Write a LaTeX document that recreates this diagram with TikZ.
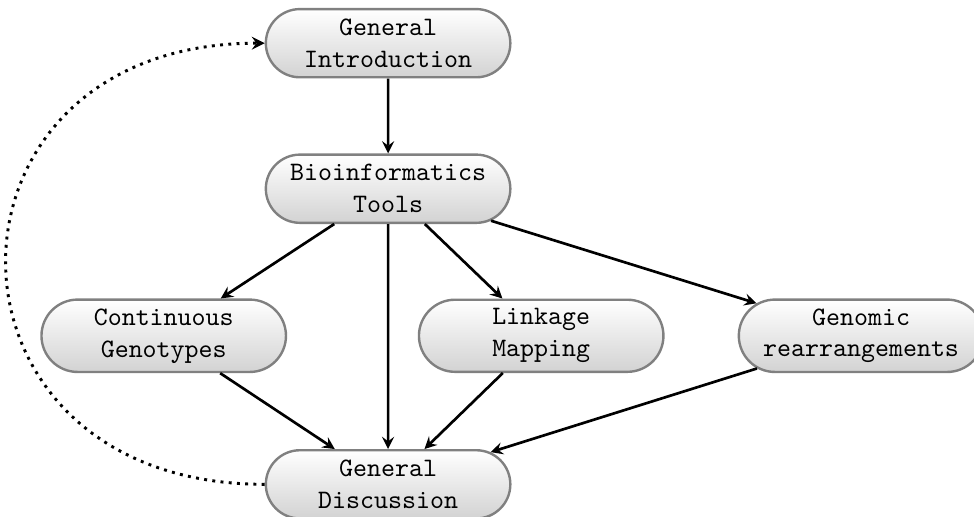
\documentclass[tikz,border=0pt]{standalone}
\usetikzlibrary{shapes.misc}
\begin{document}
\begin{tikzpicture}[>=stealth,
    chapter/.style={
      rounded rectangle,
      draw=gray,
      line width=0.9pt,
      top color=white,
      bottom color=gray!35,
      minimum width=3.46cm,
      minimum height=0.9cm,
      align=center,
      font=\ttfamily
      },
    link/.style={->, line width=1pt}
  ]
    \useasboundingbox (0,0) rectangle (12.85,6.82);
    \node (intro) [chapter] at (5.12,6.25) {General\\Introduction};
    \node (tools) [chapter] at (5.12,4.33) {Bioinformatics\\Tools};
    \node (geno)  [chapter] at (2.16,2.39) {Continuous\\Genotypes};
    \node (map)   [chapter] at (7.14,2.39) {Linkage\\Mapping};
    \node (rearr) [chapter] at (11.36,2.39) {Genomic\\rearrangements};
    \node (disc)  [chapter] at (5.12,0.43) {General\\Discussion};
    \draw[link] (intro) -- (tools);
    \draw[link] (tools) -- (geno);
    \draw[link] (tools) -- (disc);
    \draw[link] (tools) -- (map);
    \draw[link] (tools) -- (rearr);
    \draw[link] (geno) -- (disc);
    \draw[link] (map) -- (disc);
    \draw[link] (rearr) -- (disc);
    \draw[->, line width=1.1pt, dotted] 
             (disc.west) to[out=180, in=180, looseness=2] (intro.west);
  \end{tikzpicture}
\end{document}
